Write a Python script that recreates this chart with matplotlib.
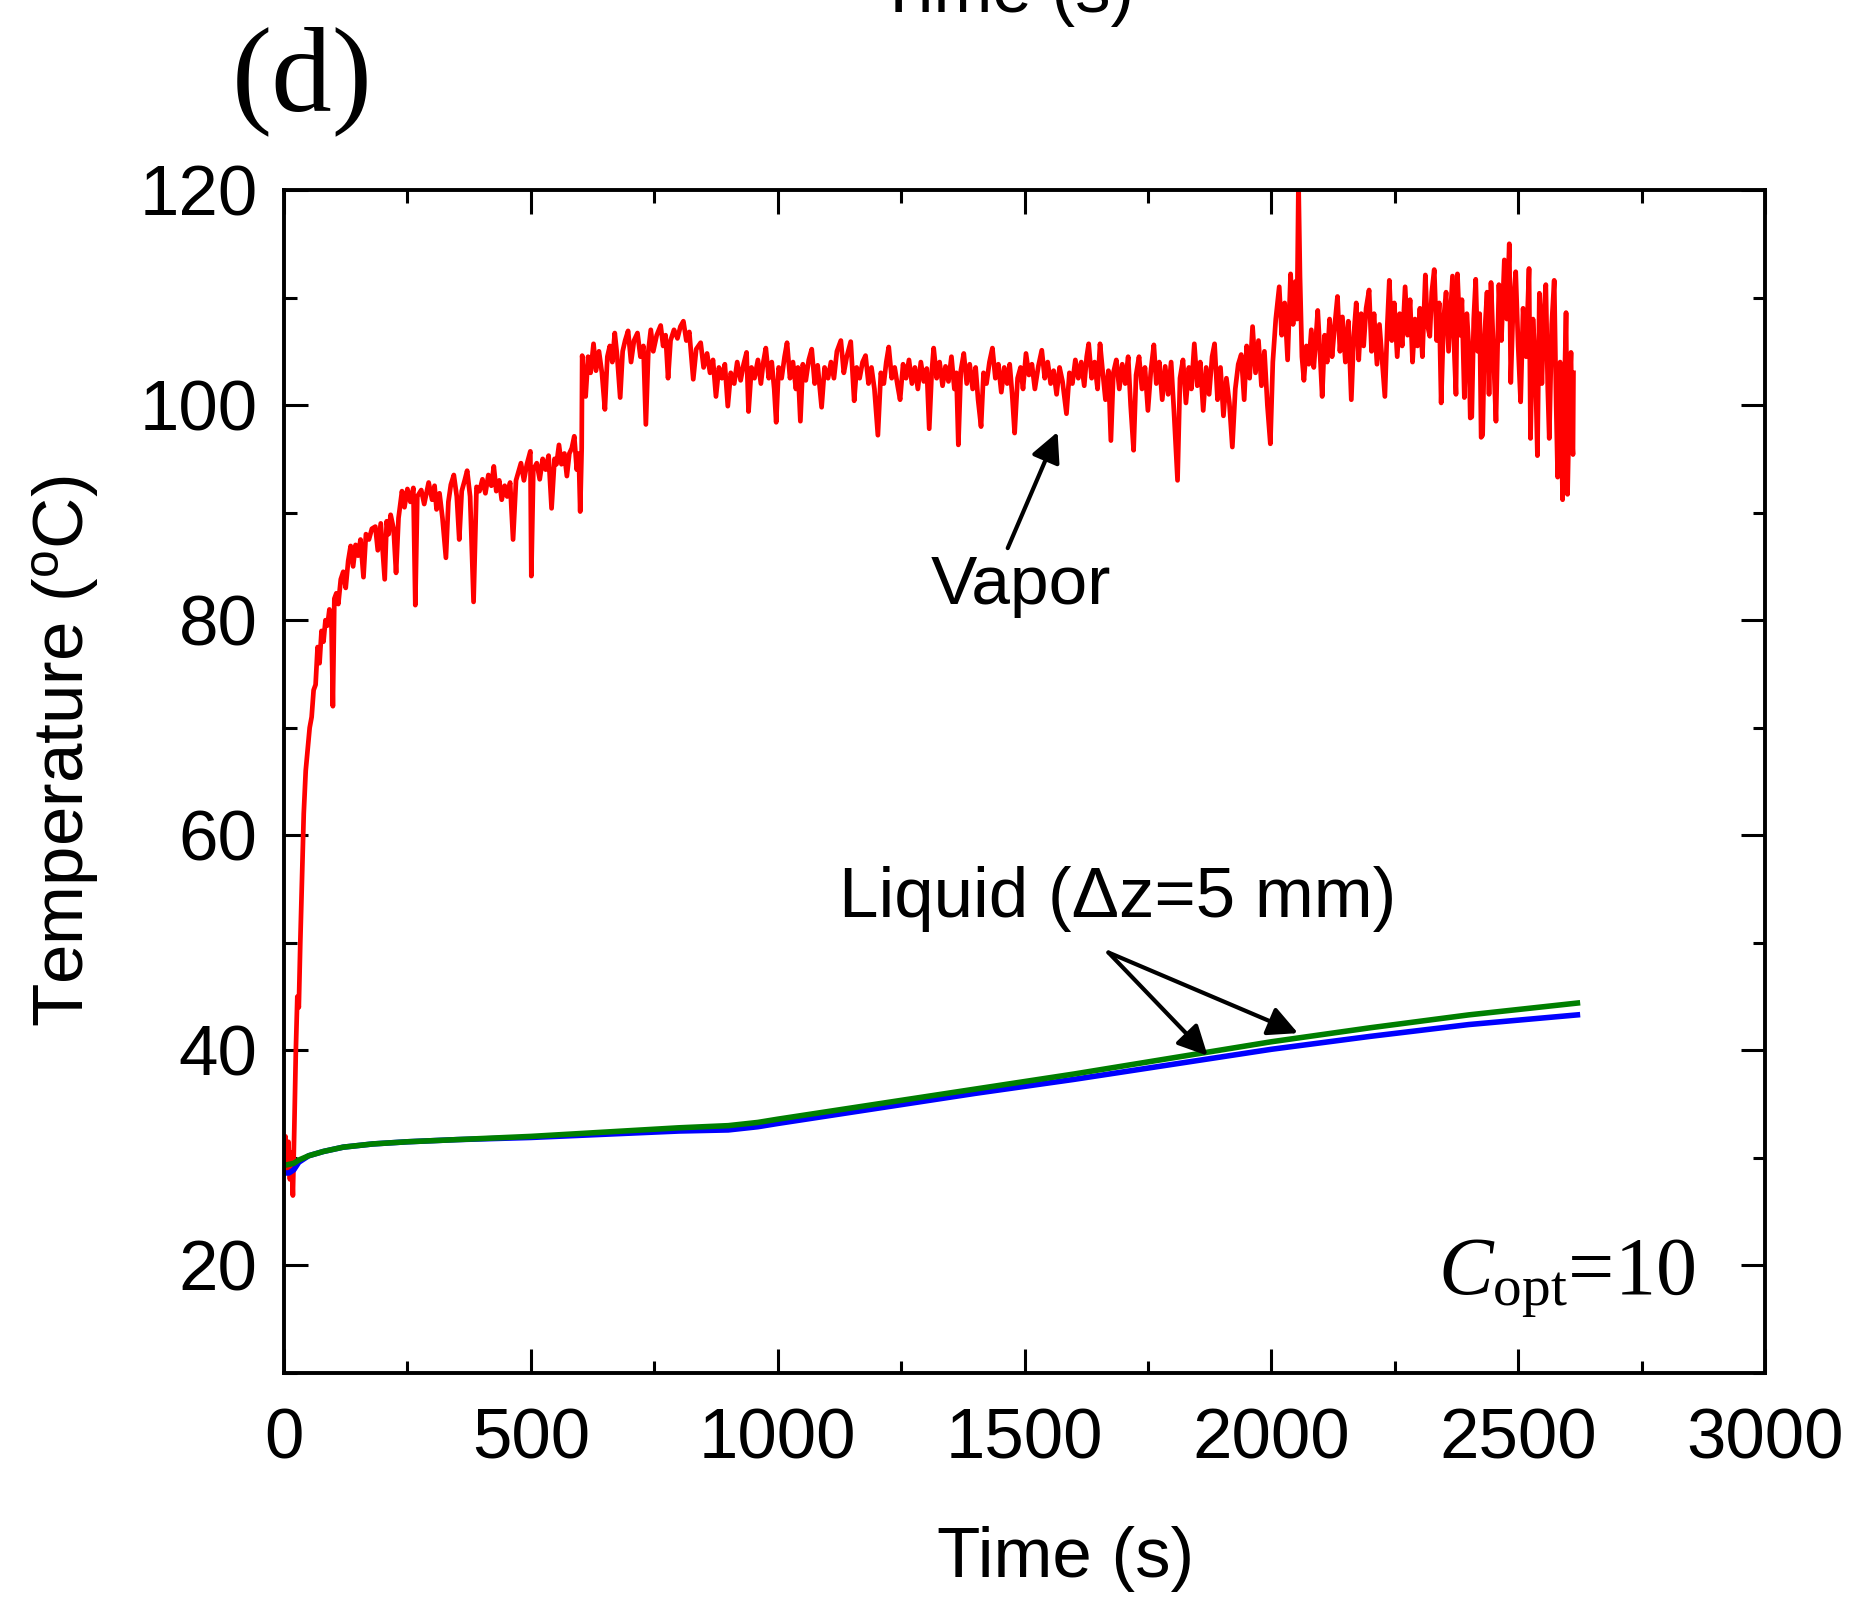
import numpy as np
import matplotlib
matplotlib.use("Agg")
import matplotlib.pyplot as plt
from matplotlib.ticker import MultipleLocator

plt.rcParams['font.family'] = ['Liberation Sans', 'DejaVu Sans']
plt.rcParams['mathtext.fontset'] = 'custom'
plt.rcParams['mathtext.rm'] = 'Liberation Serif'
plt.rcParams['mathtext.it'] = 'Liberation Serif:italic'
plt.rcParams['mathtext.sf'] = 'Liberation Sans'

# vapor temperature (s, degC)
vapor = [
    (0, 30), (3, 32), (6, 29), (9, 31.5), (12, 28), (15, 30.5), (18, 26.5), (21, 33), (24, 40),
    (27, 45), (30, 44), (33, 50), (36, 55), (40, 62), (44, 66), (48, 68), (52, 70), (56, 71),
    (60, 73.5), (64, 74), (68, 77.5), (72, 76), (76, 79), (80, 78), (84, 80), (88, 79.5),
    (92, 81), (96, 80), (99, 72), (102, 82), (106, 82.5), (110, 81.5), (115, 83.8), (120, 84.5),
    (125, 83), (130, 85.5), (135, 86.9), (140, 85), (145, 87), (150, 86), (155, 87.5), (161, 84),
    (166, 88), (172, 87.5), (178, 88.5), (185, 88.7), (190, 86.5), (196, 89), (204, 83.8),
    (208, 89.2), (212, 88), (216, 89.8), (222, 88.5), (227, 84.4), (232, 89.5), (239, 92),
    (244, 90.5), (250, 92.2), (256, 91), (262, 92.3), (266, 81.4), (270, 91.5), (278, 92.1),
    (284, 90.8), (293, 92.8), (300, 91.2), (305, 92.5), (309, 90.3), (315, 91.8), (321, 89.5),
    (328, 85.8), (333, 91), (338, 92.6), (344, 93.5), (350, 91.5), (355, 87.5), (360, 92),
    (366, 93), (371, 93.9), (377, 91.5), (384, 81.7), (390, 92.4), (396, 92), (402, 93.1),
    (408, 91.8), (414, 93.5), (420, 92.5), (425, 94.3), (430, 92), (436, 93), (441, 91.2),
    (447, 92.5), (452, 91.5), (458, 92.8), (464, 87.5), (470, 93), (475, 93.8), (480, 94.6),
    (486, 93), (492, 94.5), (499, 95.7), (501, 84.1), (505, 94), (512, 94.6), (518, 93.1),
    (524, 95), (530, 94), (536, 95.3), (542, 90.4), (548, 95), (552, 94.5), (557, 96.3),
    (562, 94.5), (568, 95.5), (573, 93.4), (578, 95.5), (583, 96), (588, 97.1), (593, 94),
    (597, 95.5), (600, 90.1), (603, 96), (604, 104.6), (608, 102), (611, 100.8), (616, 104.5),
    (621, 103), (627, 105.7), (632, 103.2), (638, 105), (644, 103), (650, 99.6), (655, 104.5),
    (660, 105.5), (665, 104), (670, 106.7), (675, 104.5), (681, 100.7), (686, 105), (691, 106),
    (697, 106.9), (703, 104), (709, 106), (716, 106.7), (722, 104.5), (728, 105.5), (733, 98.2),
    (738, 105), (743, 107), (748, 105), (755, 106.5), (763, 107.4), (768, 105.5), (773, 106.5),
    (778, 102.5), (783, 106), (790, 107), (797, 106.2), (803, 107.3), (809, 107.8), (815, 106),
    (821, 106.8), (829, 102.4), (835, 105.2), (844, 105.8), (850, 103.5), (857, 104.8),
    (863, 103), (869, 104.2), (875, 100.8), (881, 103.5), (887, 102.5), (893, 103.8), (899, 99.9),
    (905, 103), (912, 102), (918, 104), (925, 102.3), (931, 103.8), (937, 104.9), (941, 99.4),
    (947, 103.5), (953, 102.5), (960, 104.2), (966, 102), (971, 104), (976, 105.3), (982, 102.5),
    (988, 104), (993, 101.5), (997, 98.4), (1002, 103.5), (1008, 102.5), (1014, 104.5),
    (1019, 105.8), (1025, 102.5), (1031, 104), (1037, 101.5), (1041, 103.5), (1046, 98.5),
    (1051, 103.8), (1057, 102.3), (1063, 104.2), (1069, 105.2), (1075, 102), (1081, 103.7),
    (1089, 99.8), (1095, 103.5), (1102, 102.5), (1108, 104), (1114, 102.5), (1120, 105),
    (1128, 106), (1134, 103), (1140, 104.5), (1148, 105.9), (1155, 100.4), (1160, 103.5),
    (1166, 102.5), (1172, 104), (1178, 104.6), (1184, 102), (1190, 103.5), (1196, 101.5),
    (1203, 97.2), (1209, 103), (1215, 102), (1220, 104), (1225, 105.4), (1231, 102.5),
    (1237, 103.5), (1243, 101.8), (1248, 100.5), (1254, 103.8), (1260, 102.5), (1266, 104.2),
    (1272, 102), (1278, 103.5), (1284, 101.5), (1290, 104), (1296, 102.2), (1302, 103.4),
    (1307, 97.8), (1312, 103), (1316, 105.3), (1322, 102.5), (1328, 104), (1334, 101.8),
    (1340, 103.6), (1346, 102.2), (1352, 104.5), (1358, 101.5), (1362, 103), (1366, 96.3),
    (1371, 103.2), (1377, 104.8), (1383, 102), (1389, 103.8), (1395, 101.5), (1401, 103.5),
    (1406, 100.5), (1412, 98), (1417, 103), (1423, 102), (1429, 104), (1435, 105.3),
    (1441, 102.5), (1447, 103.8), (1453, 101.2), (1459, 103.5), (1465, 102), (1470, 103.8),
    (1475, 101), (1480, 97.4), (1486, 102.5), (1492, 103.5), (1497, 101.5), (1503, 104.8),
    (1509, 102.8), (1515, 103.8), (1521, 101.5), (1528, 103.6), (1535, 105.1), (1541, 102.5),
    (1547, 104), (1553, 102), (1559, 103.2), (1565, 101), (1571, 103.5), (1577, 102.2),
    (1585, 99.2), (1591, 103), (1597, 102), (1603, 104.2), (1609, 102.5), (1615, 104),
    (1621, 101.8), (1626, 104.5), (1630, 105.7), (1636, 102.5), (1642, 104), (1648, 101.5),
    (1653, 105.7), (1659, 102.8), (1664, 100.5), (1670, 103.2), (1675, 96.7), (1680, 103),
    (1686, 104.2), (1692, 101.5), (1698, 103.8), (1704, 102), (1710, 104.5), (1715, 100),
    (1721, 95.8), (1726, 102.8), (1732, 104.5), (1738, 101.5), (1744, 103.5), (1750, 99.5),
    (1756, 103.2), (1762, 105.6), (1767, 102), (1773, 104), (1779, 100.5), (1785, 103.6),
    (1791, 101), (1797, 104), (1803, 99.2), (1810, 93), (1815, 102.5), (1821, 104.2),
    (1827, 100.2), (1833, 103.5), (1838, 101.5), (1844, 105.7), (1850, 101.8), (1856, 104),
    (1862, 99.5), (1868, 103.5), (1874, 101), (1880, 104.5), (1885, 105.7), (1891, 100.5),
    (1897, 103.5), (1903, 99), (1909, 102.5), (1915, 100.2), (1921, 96.1), (1927, 101.5),
    (1933, 103.8), (1939, 104.7), (1945, 100.5), (1950, 105.5), (1956, 102.5), (1962, 107.3),
    (1968, 103), (1974, 106), (1980, 101.8), (1986, 105), (1992, 100), (1998, 96.4), (2003, 104),
    (2009, 108), (2016, 111), (2021, 106.5), (2027, 109.5), (2033, 104.2), (2039, 112.2),
    (2044, 107.5), (2049, 111.5), (2052, 108), (2055, 121), (2058, 112), (2062, 104.5),
    (2066, 102.3), (2071, 105.5), (2076, 103.8), (2081, 107), (2086, 103.5), (2090, 106),
    (2094, 108.8), (2099, 104.5), (2103, 100.8), (2108, 106.5), (2113, 104), (2118, 108),
    (2123, 104.5), (2128, 107.2), (2134, 110.1), (2139, 105), (2144, 108.2), (2150, 104),
    (2156, 107.8), (2162, 100.5), (2167, 106.5), (2172, 109.5), (2177, 104.2), (2182, 108.5),
    (2187, 105.5), (2192, 109), (2198, 110.7), (2203, 105), (2208, 108.5), (2214, 103.8),
    (2219, 107.5), (2224, 104.5), (2230, 100.8), (2235, 107.5), (2239, 111.6), (2244, 106),
    (2249, 109.5), (2255, 104.5), (2260, 108.5), (2265, 105.5), (2271, 111), (2276, 106.5),
    (2281, 109.8), (2286, 104), (2291, 108), (2296, 105.5), (2301, 109), (2306, 104.5),
    (2312, 112.1), (2316, 107.5), (2321, 106.4), (2325, 110.5), (2330, 112.6), (2335, 106),
    (2340, 109.5), (2344, 100.2), (2349, 108), (2354, 110.5), (2359, 105), (2364, 109.5),
    (2367, 112), (2371, 104.5), (2374, 101), (2377, 112.2), (2382, 106.5), (2386, 109.8),
    (2391, 100.7), (2396, 108.5), (2400, 105.5), (2403, 98.8), (2406, 98.9), (2410, 108),
    (2414, 111.7), (2418, 105), (2422, 108.5), (2425, 97), (2428, 97.2), (2432, 106.5),
    (2437, 110.5), (2441, 101), (2445, 111.4), (2450, 104.8), (2455, 98.5), (2461, 111.2),
    (2466, 106), (2472, 113.5), (2477, 108), (2482, 115), (2485, 102.1), (2490, 109.5),
    (2495, 112.4), (2500, 105.5), (2505, 100.3), (2510, 109), (2516, 104.5), (2522, 112.7),
    (2525, 96.9), (2530, 108), (2535, 103.5), (2539, 95.3), (2543, 110.4), (2548, 102),
    (2552, 108.5), (2556, 111.2), (2560, 101.5), (2563, 96.9), (2568, 107.5), (2573, 111.6),
    (2577, 100), (2580, 93.3), (2585, 104), (2590, 91.2), (2594, 102), (2597, 108.6),
    (2600, 91.7), (2604, 101), (2607, 104.9), (2609, 97), (2611, 95.4), (2612, 103),
]
vapor_t = [p[0] for p in vapor]
vapor_T = [p[1] for p in vapor]

# liquid thermocouples
liq_t = [0, 10, 20, 30, 50, 80, 120, 180, 250, 350, 500, 650, 800, 900, 960, 1000,
         1100, 1200, 1400, 1600, 1800, 2000, 2200, 2400, 2620]
green_T = [29.3, 29.4, 29.5, 29.8, 30.2, 30.6, 31.0, 31.3, 31.5, 31.7, 32.0, 32.4, 32.8,
           33.0, 33.3, 33.6, 34.3, 35.0, 36.4, 37.8, 39.3, 40.8, 42.1, 43.3, 44.4]
blue_T = [28.6, 28.6, 28.9, 29.6, 30.2, 30.6, 31.0, 31.3, 31.5, 31.7, 31.9, 32.2, 32.5,
          32.6, 32.9, 33.2, 33.9, 34.6, 36.0, 37.3, 38.7, 40.1, 41.3, 42.4, 43.3]

fig = plt.figure(figsize=(18.55, 15.97), dpi=100)
ax = fig.add_axes([284 / 1855, 1 - 1373 / 1597, 1481 / 1855, 1183 / 1597])

ax.plot(vapor_t, vapor_T, color='#ff0000', lw=3.4)
ax.plot(liq_t, blue_T, color='#0000ff', lw=4)
ax.plot(liq_t, green_T, color='#007f00', lw=4)

ax.set_xlim(0, 3000)
ax.set_ylim(10, 120)
ax.xaxis.set_major_locator(MultipleLocator(500))
ax.xaxis.set_minor_locator(MultipleLocator(250))
ax.yaxis.set_major_locator(MultipleLocator(20))
ax.yaxis.set_minor_locator(MultipleLocator(10))
ax.tick_params(which='both', direction='in', top=True, right=True, width=2.2)
ax.tick_params(which='major', length=17, labelsize=51)
ax.tick_params(axis='x', which='major', pad=25)
ax.tick_params(axis='y', which='major', pad=19)
ax.tick_params(which='minor', length=9)
for s in ax.spines.values():
    s.set_linewidth(2.8)

arrow = dict(arrowstyle='-|>', color='black', lw=3, mutation_scale=45, shrinkA=0, shrinkB=0)
ax.annotate('', xy=(1567, 97.5), xytext=(1466, 86.7), arrowprops=arrow)
ax.text(1310, 81.5, 'Vapor', fontsize=50, va='baseline')

ax.text(1124, 52.4, 'Liquid (\u0394z=5 mm)', fontsize=51, va='baseline')
ax.annotate('', xy=(1871, 39.5), xytext=(1670, 49.1), arrowprops=arrow)
ax.annotate('', xy=(2054, 41.6), xytext=(1670, 49.1), arrowprops=arrow)

ax.text(2338, 17.4, r'$C_{\mathrm{opt}}$=10', fontsize=59, family='Liberation Serif',
        va='baseline')

fig.text(302 / 1855, 1 - 110 / 1597, '(d)', fontsize=87, family='Liberation Serif',
         ha='center', va='baseline')
fig.text(1066 / 1855, 1 - 1577 / 1597, 'Time (s)', fontsize=51, ha='center', va='baseline')
# bottom of the panel above, cut by the figure edge as in the source
fig.text(1006 / 1855, 1 - 12 / 1597, 'Time (s)', fontsize=51, ha='center', va='baseline')
fig.text(65 / 1855, 1 - 751 / 1597, r'Temperature ($^{\mathsf{o}}$C)', fontsize=51,
         rotation=90, ha='center', va='center')

fig.savefig('out.png', dpi=100)
